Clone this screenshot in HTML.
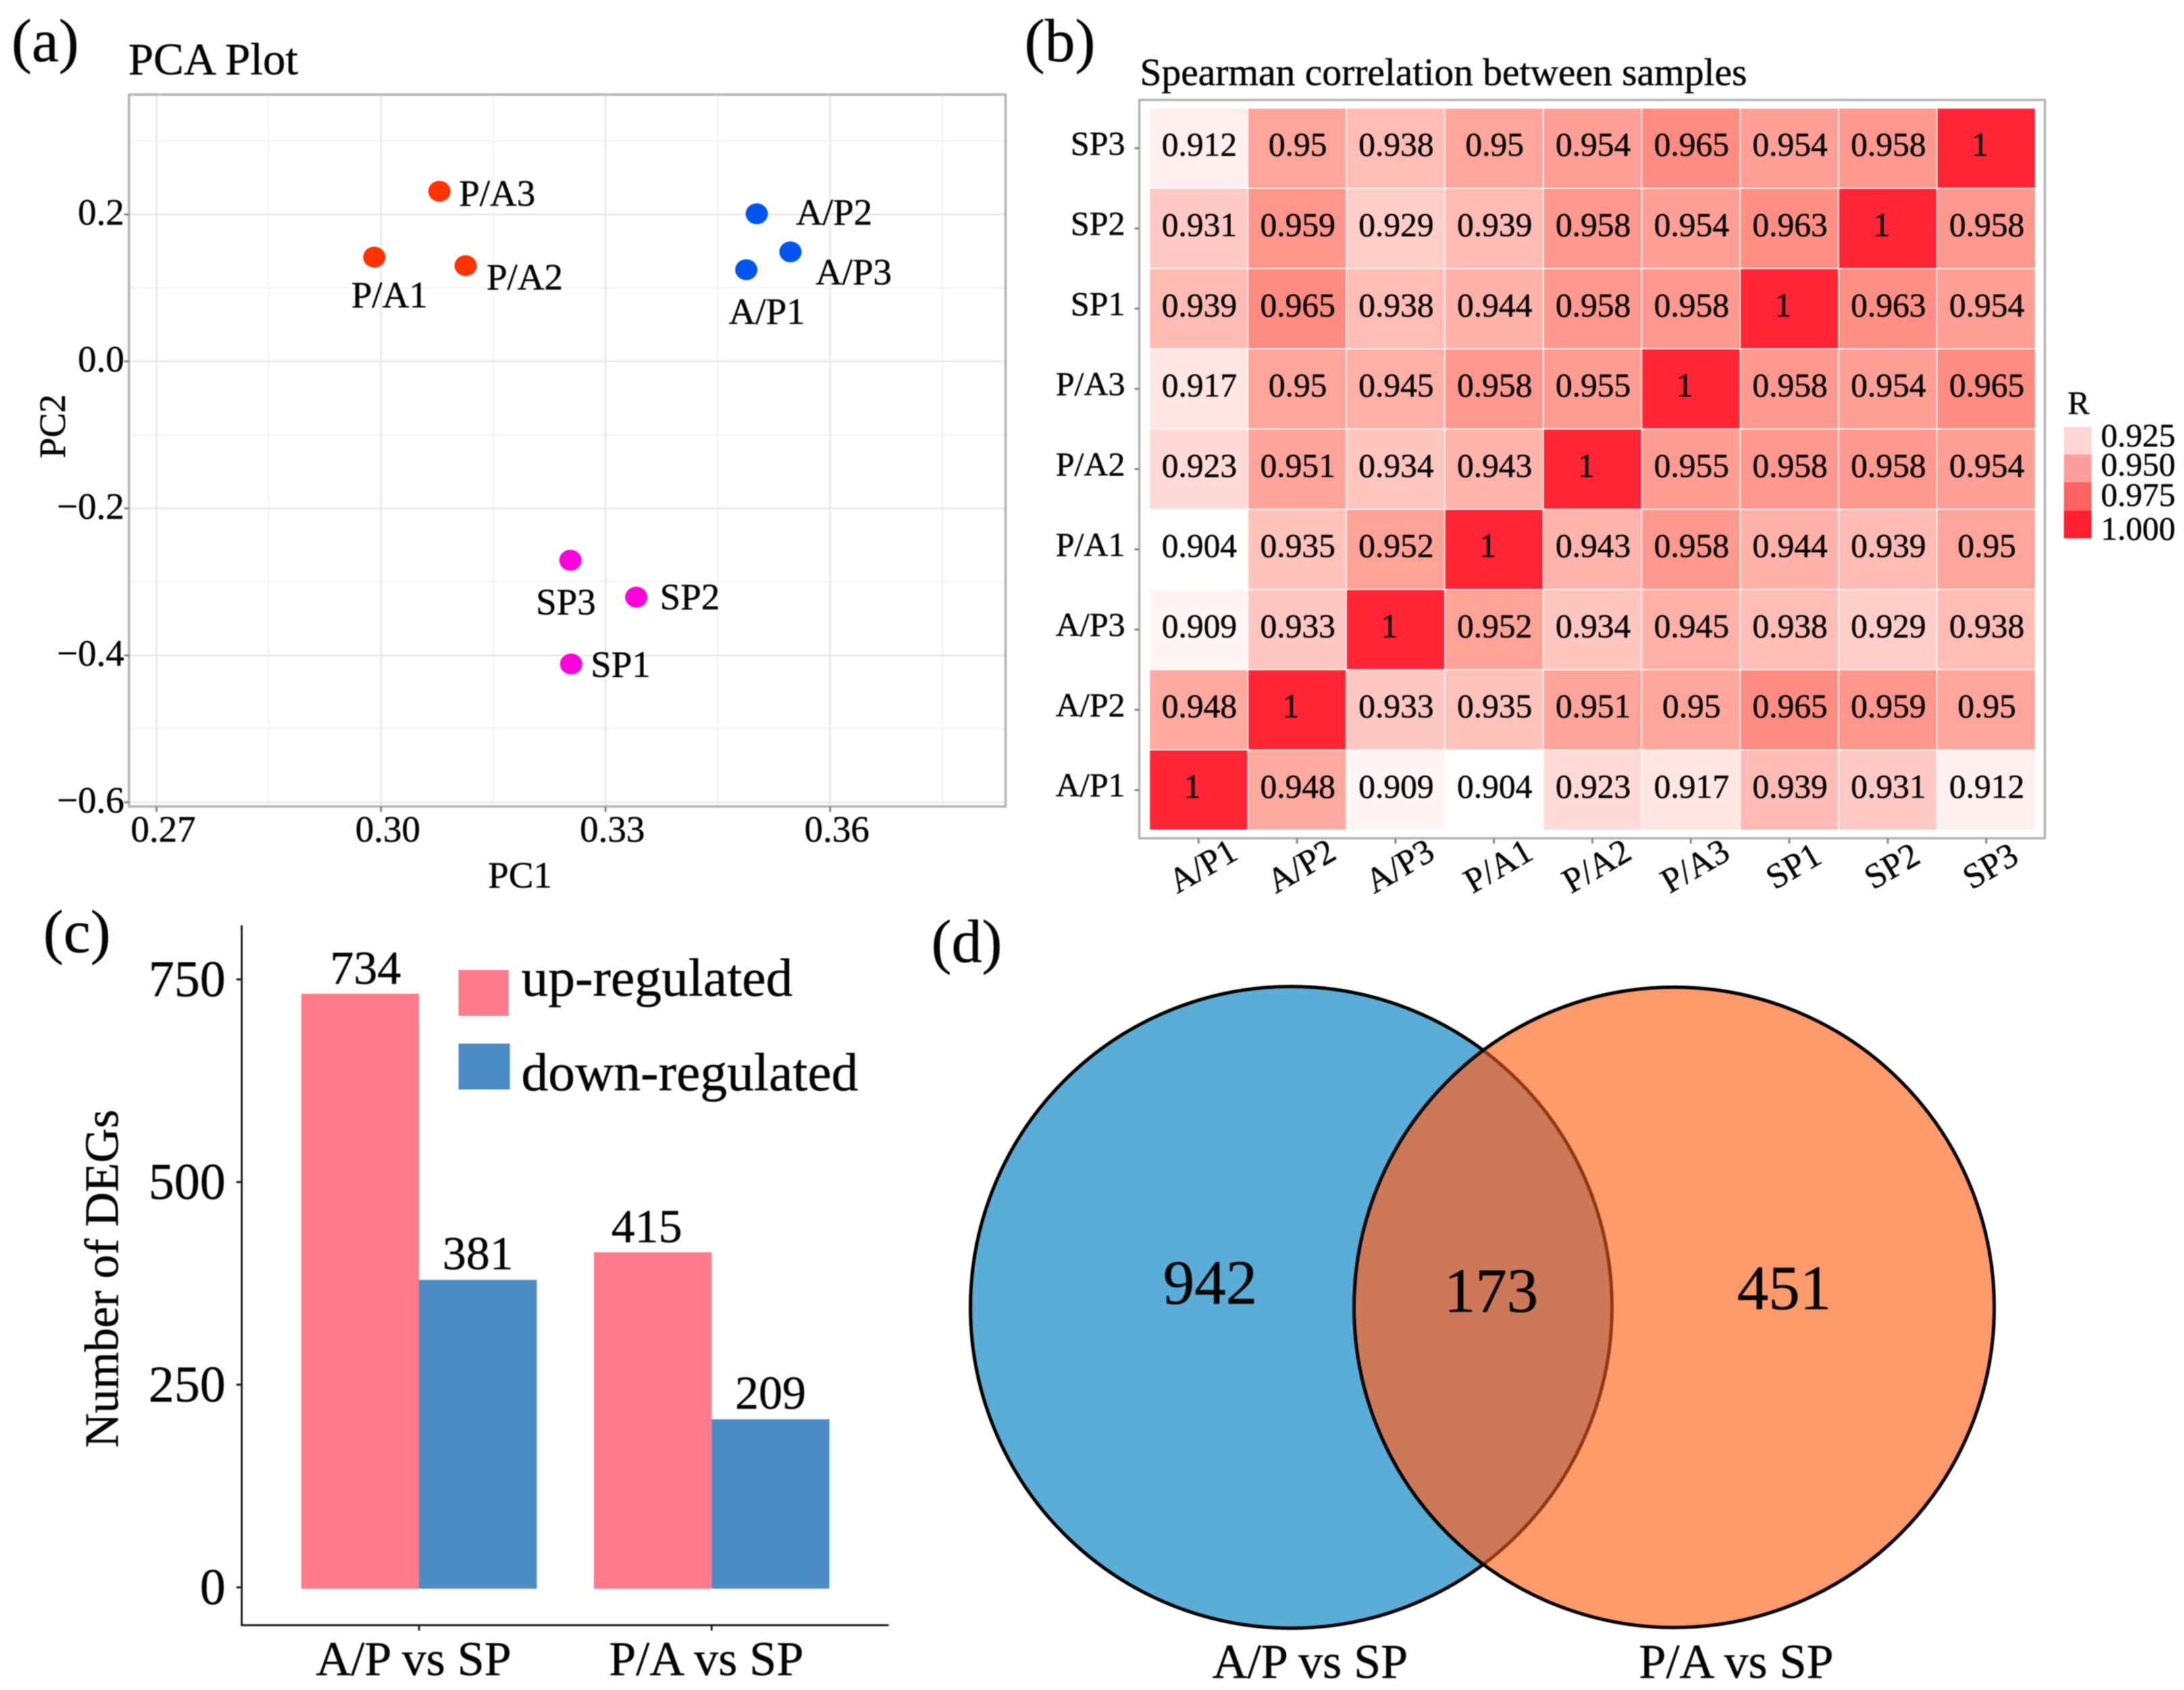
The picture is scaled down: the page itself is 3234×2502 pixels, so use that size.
<!DOCTYPE html>
<html lang="en">
<head>
<meta charset="utf-8">
<title>PCA, correlation, DEG and Venn figure</title>
<style>
html,body{margin:0;padding:0;background:#fff;width:3234px;height:2502px;overflow:hidden}
svg{display:block;filter:blur(0.7px)}
text{font-family:"Liberation Serif","Times New Roman",serif;fill:#050505;stroke:#050505;stroke-width:0.5px}
</style>
</head>
<body>
<svg id="fig" xmlns="http://www.w3.org/2000/svg" width="3234" height="2502" viewBox="0 0 3234 2502">
  <g id="panel-a"></g>
  <g id="panel-b"></g>
  <g id="panel-c"></g>
  <g id="panel-d">
    <defs>
      <clipPath id="clip-left"><circle cx="1912" cy="1935.5" r="475"/></clipPath>
      <clipPath id="clip-right"><circle cx="2479" cy="1935.5" r="474"/></clipPath>
    </defs>
    <circle cx="1912" cy="1935.5" r="475" fill="#5aadd6" stroke="#000" stroke-width="5"/>
    <circle cx="2479" cy="1935.5" r="474" fill="#ff9a6b"/>
    <circle cx="2479" cy="1935.5" r="474" fill="#cd7858" clip-path="url(#clip-left)"/>
    <circle cx="1912" cy="1935.5" r="475" fill="none" stroke="#8f3a0e" stroke-width="5" clip-path="url(#clip-right)"/>
    <circle cx="2479" cy="1935.5" r="474" fill="none" stroke="#000" stroke-width="5"/>
    <text x="1792" y="1930" font-size="93" text-anchor="middle">942</text>
    <text x="2208" y="1942" font-size="93" text-anchor="middle">173</text>
    <text x="2642" y="1938" font-size="93" text-anchor="middle">451</text>
    <text x="1940" y="2484" font-size="72" text-anchor="middle">A/P vs SP</text>
    <text x="2571" y="2484" font-size="72" text-anchor="middle">P/A vs SP</text>
    <text x="1379" y="1424" font-size="90">(d)</text>
  </g>
</svg>
<script>
// ---------- Panel (a) data ----------
var pcaSamples = ['P/A1','P/A2','P/A3','A/P1','A/P2','A/P3','SP1','SP2','SP3'];
var pcaPc1 = [0.2991,0.3113,0.3078,0.3488,0.3502,0.3547,0.3254,0.3341,0.3253];
var pcaPc2 = [0.1418,0.1302,0.2314,0.1247,0.2008,0.1490,-0.4118,-0.3208,-0.2706];
var pcaGroups = ['P/A','P/A','P/A','A/P','A/P','A/P','SP','SP','SP'];
var pcaXTicks = [0.27,0.30,0.33,0.36];
var pcaXMinor = [0.285,0.315,0.345,0.375];
var pcaYTicks = [0.2,0,-0.2,-0.4,-0.6];
var pcaYMinor = [0.3,0.1,-0.1,-0.3,-0.5];

// ---------- Panel (b) data ----------
var heatLabels = ['A/P1','A/P2','A/P3','P/A1','P/A2','P/A3','SP1','SP2','SP3'];
var rowAP1 = [1,0.948,0.909,0.904,0.923,0.917,0.939,0.931,0.912];
var rowAP2 = [0.948,1,0.933,0.935,0.951,0.95,0.965,0.959,0.95];
var rowAP3 = [0.909,0.933,1,0.952,0.934,0.945,0.938,0.929,0.938];
var rowPA1 = [0.904,0.935,0.952,1,0.943,0.958,0.944,0.939,0.95];
var rowPA2 = [0.923,0.951,0.934,0.943,1,0.955,0.958,0.958,0.954];
var rowPA3 = [0.917,0.95,0.945,0.958,0.955,1,0.958,0.954,0.965];
var rowSP1 = [0.939,0.965,0.938,0.944,0.958,0.958,1,0.963,0.954];
var rowSP2 = [0.931,0.959,0.929,0.939,0.958,0.954,0.963,1,0.958];
var rowSP3 = [0.912,0.95,0.938,0.95,0.954,0.965,0.954,0.958,1];
var heatRows = [rowAP1,rowAP2,rowAP3,rowPA1,rowPA2,rowPA3,rowSP1,rowSP2,rowSP3];
var legendValues = [0.925,0.950,0.975,1.000];

// ---------- Panel (c) data ----------
var degCategories = ['A/P vs SP','P/A vs SP'];
var degUp = [734,415];
var degDown = [381,209];
var degTicks = [0,250,500,750];

// ---------- helpers ----------
var NS = 'http://www.w3.org/2000/svg';
function mk(parent, tag, attrs, name) {
  var el = document.createElementNS(NS, tag);
  for (var k in attrs) el.setAttribute(k, attrs[k]);
  
  
  parent.appendChild(el);
  return el;
}
function label(parent, str, x, y, size, anchor, name, extra) {
  var a = {x:x, y:y + size*0.33, 'font-size':size, 'text-anchor':anchor||'start'};
  if (extra) for (var k in extra) a[k] = extra[k];
  var t = mk(parent, 'text', a, name);
  t.textContent = str;
  return t;
}
function line(parent, x1, y1, x2, y2, stroke, w, name) {
  return mk(parent, 'line', {x1:x1,y1:y1,x2:x2,y2:y2,stroke:stroke,'stroke-width':w}, name);
}
function slug(s){ return s.toLowerCase().replace(/[^a-z0-9]+/g,'-'); }

// ---------- Panel (a) ----------
(function(){
  var g = document.getElementById('panel-a');
  var box = {l:191, r:1489, t:140, b:1194};
  var xS = function(v){ return 564.2 + (v-0.30)*(332.5/0.03); };
  var yS = function(v){ return 535 - v*1088; };
  var groupColor = {'P/A':'#ff3300','A/P':'#0055ee','SP':'#ff00dd'};
  // label placement relative to each point, same order as pcaSamples
  var labelOffsets = [[-34,56],[31,17],[29,3],[-26,62],[58,-2],[37,30],[29,1],[35,0],[-51,62]];

  label(g,'(a)',17,61,90,'start','panel-label-a');
  label(g,'PCA Plot',190,88,67,'start','pca-title');
  mk(g,'rect',{x:box.l,y:box.t,width:box.r-box.l,height:box.b-box.t,fill:'#fff'},'pca-plot-background');
  pcaXMinor.forEach(function(v){ line(g,xS(v),box.t,xS(v),box.b,'#f2f2f2',2,'pca-x-minor-gridline'); });
  pcaYMinor.forEach(function(v){ line(g,box.l,yS(v),box.r,yS(v),'#f2f2f2',2,'pca-y-minor-gridline'); });
  pcaXTicks.forEach(function(v){ line(g,xS(v),box.t,xS(v),box.b,'#e8e8e8',2.5,'pca-x-gridline'); });
  pcaYTicks.forEach(function(v){ line(g,box.l,yS(v),box.r,yS(v),'#e8e8e8',2.5,'pca-y-gridline'); });
  mk(g,'rect',{x:box.l,y:box.t,width:box.r-box.l,height:box.b-box.t,fill:'none',stroke:'#b4b4b4','stroke-width':3.5},'pca-plot-frame');
  pcaXTicks.forEach(function(v){
    line(g,xS(v),box.b,xS(v),box.b+8,'#888',3,'pca-x-tick');
    label(g,v.toFixed(2),xS(v)+10,1228,55,'middle','pca-x-tick-label');
  });
  pcaYTicks.forEach(function(v){
    line(g,box.l-7,yS(v),box.l,yS(v),'#888',3,'pca-y-tick');
    label(g,(v<0?'\u2212':'')+Math.abs(v).toFixed(1),184,yS(v)-3,55,'end','pca-y-tick-label');
  });
  label(g,'PC1',770,1296,55,'middle','pca-x-axis-title');
  var yTitle = label(g,'PC2',0,0,55,'middle','pca-y-axis-title');
  yTitle.setAttribute('transform','translate(78,631) rotate(-90)');
  pcaSamples.forEach(function(s,i){
    var cx = xS(pcaPc1[i]), cy = yS(pcaPc2[i]);
    mk(g,'ellipse',{cx:cx,cy:cy,rx:16.5,ry:15.5,fill:groupColor[pcaGroups[i]]},'pca-point-'+slug(s));
    label(g,s,cx+labelOffsets[i][0],cy+labelOffsets[i][1],55,'start','pca-point-label-'+slug(s));
  });
})();

// ---------- Panel (b) ----------
(function(){
  var g = document.getElementById('panel-b');
  var box = {l:1687, r:3028, t:148, b:1241};
  var grid = {l:1702, r:3014, t:160, b:1229};
  var n = heatLabels.length;
  var cw = (grid.r-grid.l)/n, ch = (grid.b-grid.t)/n;
  var colX = function(i){ return grid.l + i*cw; };
  var rowY = function(i){ return grid.b - (i+1)*ch; };
  var stops = [0.904,0.925,0.95,0.975,1];
  var stopColors = [[255,255,255],[255,214,210],[255,166,156],[255,122,112],[255,37,53]];
  function colorFor(v){
    for (var i=1;i<stops.length;i++){
      if (v<=stops[i]){
        var t=(v-stops[i-1])/(stops[i]-stops[i-1]);
        var a=stopColors[i-1], b=stopColors[i];
        return 'rgb('+Math.round(a[0]+(b[0]-a[0])*t)+','+Math.round(a[1]+(b[1]-a[1])*t)+','+Math.round(a[2]+(b[2]-a[2])*t)+')';
      }
    }
    return 'rgb(255,37,53)';
  }
  label(g,'(b)',1517,61,90,'start','panel-label-b');
  label(g,'Spearman correlation between samples',1688,107,57.5,'start','heatmap-title');
  mk(g,'rect',{x:box.l,y:box.t,width:box.r-box.l,height:box.b-box.t,fill:'#fff',stroke:'#b4b4b4','stroke-width':3.5},'heatmap-frame');
  heatRows.forEach(function(row,r){
    row.forEach(function(v,c){
      var cn = 'heat-cell-'+slug(heatLabels[r])+'-'+slug(heatLabels[c]);
      mk(g,'rect',{x:colX(c)+0.8,y:rowY(r)+0.8,width:cw-1.6,height:ch-1.6,fill:colorFor(v)},cn);
      label(g,String(v),colX(c)+cw/2+(v===1?-9:1),rowY(r)+ch/2-5,49.5,'middle',cn+'-value');
    });
  });
  heatLabels.forEach(function(s,i){
    line(g,box.l-7,rowY(i)+ch/2,box.l,rowY(i)+ch/2,'#888',3,'heatmap-y-tick');
    label(g,s,1666,rowY(i)+ch/2-7,50,'end','heatmap-y-label-'+slug(s));
    line(g,colX(i)+cw/2,box.b,colX(i)+cw/2,box.b+8,'#888',3,'heatmap-x-tick');
    var t = label(g,s,0,0,52,'middle','heatmap-x-label-'+slug(s));
    t.setAttribute('transform','translate('+(colX(i)+cw/2+6)+',1282) rotate(-30)');
  });
  label(g,'R',3078,597,49,'middle','legend-title');
  var swatchY = [632,673,714,756], swatchH = [41,41,42,41], legendTextY = [645,688,733,783];
  var swatchFill = ['#ffd6d4','#ff9e9c','#ff6362','#ff2030'];
  legendValues.forEach(function(v,i){
    mk(g,'rect',{x:3056,y:swatchY[i],width:41,height:swatchH[i],fill:swatchFill[i]},'legend-swatch-'+v.toFixed(3));
    label(g,v.toFixed(3),3111,legendTextY[i],49,'start','legend-label-'+v.toFixed(3));
  });
})();

// ---------- Panel (c) ----------
(function(){
  var g = document.getElementById('panel-c');
  var axisX = 358, axisY = 2406, axisTop = 1370, axisRight = 1316;
  var yS = function(v){ return 2352 - v*1.2; };
  var groupCenter = function(i){ return 620.5 + i*433.3; };
  var barW = 174.4;
  label(g,'(c)',64,1380,90,'start','panel-label-c');
  degCategories.forEach(function(cat,i){
    var c = groupCenter(i);
    mk(g,'rect',{x:c-barW,y:yS(degUp[i]),width:barW,height:yS(0)-yS(degUp[i]),fill:'#ff7a8b'},'bar-up-'+slug(cat));
    mk(g,'rect',{x:c,y:yS(degDown[i]),width:barW,height:yS(0)-yS(degDown[i]),fill:'#4c8cc4'},'bar-down-'+slug(cat));
    label(g,String(degUp[i]),c-barW/2+(i===0?8:-9),yS(degUp[i])-38,70,'middle','bar-value-up-'+slug(cat));
    label(g,String(degDown[i]),c+barW/2,yS(degDown[i])-39,70,'middle','bar-value-down-'+slug(cat));
    line(g,c,axisY,c,axisY+8,'#222',3,'deg-x-tick');
    label(g,cat,c-8,2456,72,'middle','deg-x-label-'+slug(cat));
  });
  line(g,axisX,axisTop,axisX,axisY+1.5,'#222',3,'deg-y-axis');
  line(g,axisX,axisY,axisRight,axisY,'#222',3,'deg-x-axis');
  degTicks.forEach(function(v){
    line(g,axisX-8,yS(v)-2,axisX,yS(v)-2,'#222',3,'deg-y-tick');
    label(g,String(v),334,yS(v)-2,76,'end','deg-y-tick-label');
  });
  var yt = label(g,'Number of DEGs',0,0,71,'middle','deg-y-axis-title');
  yt.setAttribute('transform','translate(151,1893) rotate(-90)');
  mk(g,'rect',{x:679,y:1436,width:74,height:68,fill:'#ff7a8b'},'legend-swatch-up');
  mk(g,'rect',{x:679,y:1545,width:76,height:68,fill:'#4c8cc4'},'legend-swatch-down');
  label(g,'up-regulated',772,1448,79.5,'start','legend-label-up');
  label(g,'down-regulated',772,1588,79.5,'start','legend-label-down');
})();
</script>
</body>
</html>
